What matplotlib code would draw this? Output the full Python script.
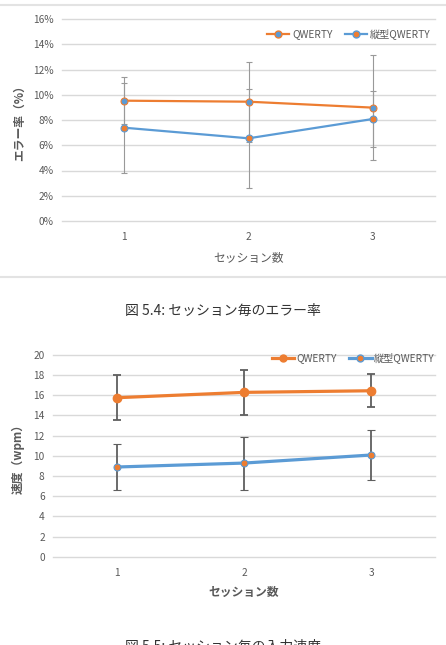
import matplotlib
matplotlib.use("Agg")
import matplotlib.pyplot as plt
from matplotlib.lines import Line2D
from matplotlib.ticker import FuncFormatter

plt.rcParams['font.family'] = ['Noto Sans CJK JP', 'DejaVu Sans']

# データ
sessions = [1, 2, 3]
series_names = ['QWERTY', '縦型QWERTY']

# 図 5.4 エラー率 (%)
err_qwerty = [9.53, 9.45, 8.98]
err_qwerty_sd = [1.85, 3.17, 4.17]
err_tate = [7.39, 6.55, 8.08]
err_tate_sd = [3.57, 3.91, 2.22]
err_ticks = [0, 2, 4, 6, 8, 10, 12, 14, 16]

# 図 5.5 入力速度 (wpm)
spd_qwerty = [15.74, 16.27, 16.43]
spd_qwerty_sd = [2.25, 2.26, 1.62]
spd_tate = [8.88, 9.27, 10.07]
spd_tate_sd = [2.24, 2.62, 2.5]
spd_ticks = [0, 2, 4, 6, 8, 10, 12, 14, 16, 18, 20]

ORANGE = '#ED7D31'
BLUE = '#5B9BD5'
GRID = '#d9d9d9'
TXT = '#595959'

W, H = 446, 645
fig = plt.figure(figsize=(W / 100, H / 100), dpi=100)


def px(x0, y0, x1, y1):
    # ピクセル座標 -> figure 座標
    return [x0 / W, 1 - y1 / H, (x1 - x0) / W, (y1 - y0) / H]


def style_axes(ax, ticks):
    ax.set_xlim(0.5, 3.5)
    ax.set_ylim(ticks[0], ticks[-1])
    ax.set_yticks(ticks)
    ax.set_xticks(sessions)
    for s in ax.spines.values():
        s.set_visible(False)
    ax.yaxis.grid(True, color=GRID, linewidth=1.0)
    for gl in ax.get_ygridlines():
        gl.set_clip_on(False)
    ax.set_axisbelow(True)
    ax.tick_params(axis='y', length=0, labelsize=7.3, colors=TXT, pad=6)
    ax.tick_params(axis='x', length=0, labelsize=7.3, colors=TXT, pad=8)


# ---- 図 5.4 ----
ax1 = fig.add_axes(px(62, 19, 435, 221))
style_axes(ax1, err_ticks)
ax1.yaxis.set_major_formatter(FuncFormatter(lambda v, p: f"{int(v)}%"))
ax1.errorbar(sessions, err_qwerty, yerr=err_qwerty_sd, color=ORANGE, lw=1.6,
             marker='o', ms=5, mfc=BLUE, mec=ORANGE, mew=0.8,
             ecolor='#999999', elinewidth=0.8, capsize=2.5, capthick=0.8)
ax1.errorbar(sessions, err_tate, yerr=err_tate_sd, color=BLUE, lw=1.6,
             marker='o', ms=5, mfc=ORANGE, mec=BLUE, mew=0.8,
             ecolor='#999999', elinewidth=0.8, capsize=2.5, capthick=0.8)
ax1.set_ylabel('エラー率（%）', fontsize=8.5, color=TXT, fontweight='bold', labelpad=5)
ax1.set_xlabel('セッション数', fontsize=8.5, color=TXT, labelpad=7)
h1 = [Line2D([], [], color=ORANGE, lw=1.6, marker='o', ms=5, mfc=BLUE, mec=ORANGE),
      Line2D([], [], color=BLUE, lw=1.6, marker='o', ms=5, mfc=ORANGE, mec=BLUE)]
leg1 = ax1.legend(h1, series_names, loc='center right', bbox_to_anchor=(1.0, 0.926),
                  ncol=2, frameon=False, fontsize=7.3, handlelength=2.2,
                  handletextpad=0.3, columnspacing=1.2, borderaxespad=0)
for t in leg1.get_texts():
    t.set_color(TXT)

# 枠線
fig.add_artist(Line2D([0, 1], [1 - 5 / H, 1 - 5 / H], color='#e3e3e3', lw=1.5))
fig.add_artist(Line2D([0, 1], [1 - 277 / H, 1 - 277 / H], color='#e3e3e3', lw=1.5))

fig.text(0.5, 1 - 311 / H, '図 5.4: セッション毎のエラー率', ha='center', va='center',
         fontsize=10, color='#333333')

# ---- 図 5.5 ----
ax2 = fig.add_axes(px(53, 354.7, 435, 556.7))
style_axes(ax2, spd_ticks)
ax2.errorbar(sessions, spd_qwerty, yerr=spd_qwerty_sd, color=ORANGE, lw=2.3,
             marker='o', ms=6, mfc=ORANGE, mec=ORANGE,
             ecolor='#5f5f5f', elinewidth=1.3, capsize=3, capthick=1.3)
ax2.errorbar(sessions, spd_tate, yerr=spd_tate_sd, color=BLUE, lw=2.3,
             marker='o', ms=5, mfc=ORANGE, mec=BLUE, mew=0.8,
             ecolor='#5f5f5f', elinewidth=1.3, capsize=3, capthick=1.3)
ax2.set_ylabel('速度（wpm）', fontsize=8.5, color=TXT, fontweight='bold', labelpad=6)
ax2.set_xlabel('セッション数', fontsize=8.5, color=TXT, fontweight='bold', labelpad=6)
h2 = [Line2D([], [], color=ORANGE, lw=2.3, marker='o', ms=5, mfc=ORANGE, mec=ORANGE),
      Line2D([], [], color=BLUE, lw=2.3, marker='o', ms=5, mfc=ORANGE, mec=BLUE)]
leg2 = ax2.legend(h2, series_names, loc='center right', bbox_to_anchor=(1.01, 0.984),
                  ncol=2, frameon=False, fontsize=7.3, handlelength=2.2,
                  handletextpad=0.25, columnspacing=1.2, borderaxespad=0)
for t in leg2.get_texts():
    t.set_color(TXT)

# 下端で切れているキャプション (元画像と同じ)
fig.text(0.5, 1 - 640 / H, '図 5.5: セッション毎の入力速度', ha='center', va='top',
         fontsize=10, color='#333333')

fig.savefig('out.png', dpi=100)
